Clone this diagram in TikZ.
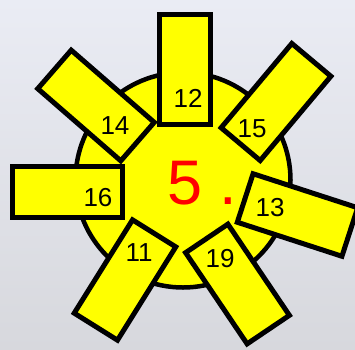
\documentclass[tikz,border=0pt]{standalone}
\usepackage{fontspec}
\setmainfont{Liberation Sans}
\definecolor{bgtop}{RGB}{234,236,244}
\definecolor{bgbot}{RGB}{215,216,221}
\definecolor{sunyellow}{RGB}{255,255,0}
\definecolor{fivered}{RGB}{255,0,0}
\tikzset{
  ray/.style={shape=rectangle, draw=black, fill=sunyellow, line width=5pt,
    minimum width=110pt, minimum height=51pt, inner sep=0pt},
  sun/.style={shape=circle, draw=black, fill=sunyellow, line width=4.5pt,
    minimum size=215pt, inner sep=0pt},
  lbl/.style={inner sep=0pt, font=\fontsize{26}{26}\selectfont, text=black},
  big/.style={inner sep=0pt, font=\fontsize{63}{63}\selectfont, text=fivered}
}
\begin{document}
\begin{tikzpicture}[x=1pt,y=-1pt]
\shade[top color=bgtop, bottom color=bgbot] (0,0) rectangle (355,349);
\useasboundingbox (0,0) rectangle (355,349);
\node[sun] (sun) at (183,180) {};
\node[ray, rotate=-41] (r14) at (96,105.5) {};
\node[ray, rotate=50] (r15) at (276,102) {};
\node[ray] (r16) at (67.5,192) {};
\node[ray, rotate=-18] (r13) at (297.5,215) {};
\node[ray, rotate=58] (r11) at (125,280) {};
\node[ray, rotate=-56] (r19) at (237.5,284) {};
\node[ray, rotate=90] (r12) at (185,69.5) {};
\node[lbl] (t12) at (188,98) {12};
\node[lbl] (t14) at (115,126) {14};
\node[lbl] (t15) at (252,129) {15};
\node[lbl] (t16) at (98,198) {16};
\node[lbl] (t13) at (270,208) {13};
\node[lbl] (t11) at (139,253) {11};
\node[lbl] (t19) at (220,259) {19};
\node[big, anchor=base west] (five) at (167.2,204) {5 .};
\end{tikzpicture}
\end{document}
